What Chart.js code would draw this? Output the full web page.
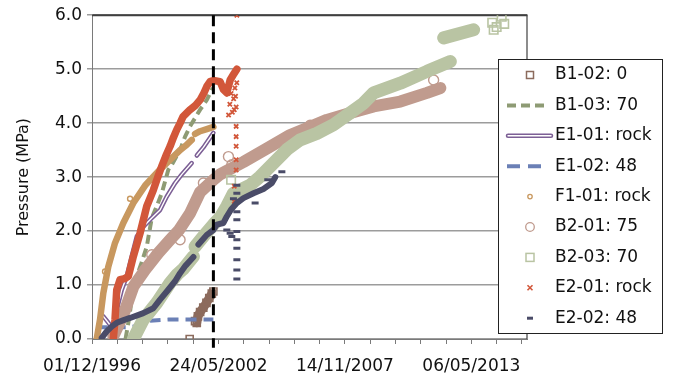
<!DOCTYPE html>
<html>
<head>
<meta charset="utf-8">
<script src="https://cdn.jsdelivr.net/npm/chart.js@4.4.1/dist/chart.umd.min.js"></script>
<style>
  html, body { margin: 0; padding: 0; background: #fff; }
  #wrap { width: 673px; height: 380px; }
</style>
</head>
<body>
<div id="wrap"><canvas id="c" width="673" height="380"></canvas></div>
<script>
// Dates are Excel serial day numbers; pressures in MPa.
const X_TICK_DATES  = [35400, 37400, 39400, 41400];
const X_TICK_LABELS = ['01/12/1996', '24/05/2002', '14/11/2007', '06/05/2013'];
const X_MIN = 35400, X_MAX = 42280, X_MINOR_STEP = 400;
const Y_TICKS = [0, 1, 2, 3, 4, 5, 6];

const SERIES_NAMES = ['B1-02: 0', 'B1-03: 70', 'E1-01: rock', 'E1-02: 48', 'F1-01: rock',
                      'B2-01: 75', 'B2-03: 70', 'E2-01: rock', 'E2-02: 48'];

// reference date marked by the dashed vertical line
const MARKER_DATE = 37320;
const MARKER_SPAN = [6.0, -0.16];

// B1-02: 0
const b1_02 = [[36945, 0.00], null, [37030, 0.33], [37057, 0.30], [37075, 0.42], [37110, 0.50],
  [37160, 0.58], [37210, 0.67], [37255, 0.76], [37295, 0.84], [37320, 0.88]];

// B1-03: 70
const b1_03 = [[35930, 0.00], [35990, 0.40], [36040, 0.85], [36090, 1.10], [36180, 1.40],
  [36266, 1.71], [36345, 2.24], [36424, 2.46], [36503, 2.70], [36556, 2.92], [36608, 3.14],
  [36662, 3.23], [36793, 3.50], [36872, 3.75], [36951, 3.94], [37110, 4.25], [37216, 4.43],
  [37295, 4.62], [37320, 4.65]];

// E1-01: rock
const e1_01 = [[35579, 0.42], [35640, 0.33], [35685, 0.26], [35737, 0.17], [35791, 0.54],
  [35870, 0.91], [35949, 1.16], [36002, 1.41], [36108, 1.90], [36212, 2.08], [36318, 2.21],
  [36476, 2.39], [36583, 2.64], [36714, 2.89], [36820, 3.05], [36978, 3.26], null,
  [37057, 3.40], [37162, 3.55], [37320, 3.82]];

// E1-02: 48
const e1_02 = [[35474, 0.22], [36002, 0.22], [36108, 0.24], [36318, 0.34], [36608, 0.36],
  [37320, 0.36]];

// F1-01: rock
const f1_01 = [[35474, 0.00], [35527, 0.36], [35579, 0.85], [35658, 1.34], [35764, 1.78],
  [35895, 2.15], [36054, 2.52], [36250, 2.86], [36476, 3.14], [36662, 3.35], [36793, 3.50],
  [36880, 3.58], [36978, 3.69], null, [37030, 3.80], [37110, 3.85], [37216, 3.89], [37320, 3.93]];
const f1_01_scatter = [[35606, 1.25], [36002, 2.60]];

// B2-01: 75
const b2_01 = [[35737, 0.05], [35906, 0.48], [36054, 0.97], [36239, 1.28], [36445, 1.59],
  [36635, 1.84], [36777, 2.02], [36951, 2.33], [37110, 2.72], [37320, 2.95], [37426, 3.05],
  [37795, 3.28], [38166, 3.53], [38534, 3.78], [38851, 3.93], [39115, 4.06], [39484, 4.19],
  [39854, 4.31], [40276, 4.40], [40698, 4.56], [40909, 4.65]];
const b2_01_scatter = [[36345, 1.56], [36793, 1.84], [37162, 2.89], [37558, 3.38], [37611, 3.23],
  [38851, 3.96], [40803, 4.80]];

// B2-03: 70
const b2_03 = [[36054, 0.00], [36212, 0.36], [36424, 0.67], [36635, 1.04], [36750, 1.20],
  [36845, 1.30], [37004, 1.53], null, [37030, 1.71], [37162, 1.90], [37320, 2.12], [37426, 2.25],
  [37532, 2.46], [37637, 2.70], [37901, 2.85], [38059, 3.01], [38270, 3.26], [38482, 3.51],
  [38693, 3.69], [38957, 3.81], [39220, 3.97], [39484, 4.19], [39695, 4.37], [39854, 4.56],
  [40276, 4.74], [40698, 4.96], [41067, 5.14], null, [40962, 5.58], [41436, 5.73]];
const b2_03_scatter = [[37600, 2.95], [41753, 5.73], [41730, 5.86], [41880, 5.97], [41920, 5.84],
  [41800, 5.78]];

// E2-01: rock
const e2_01 = [[35737, 0.00], [35764, 0.36], [35791, 0.91], [35843, 1.10], [35920, 1.12],
  [35975, 1.16], [36054, 1.53], [36160, 1.96], [36266, 2.46], [36370, 2.76], [36440, 3.00],
  [36503, 3.20], [36570, 3.40], [36635, 3.57], [36690, 3.74], [36741, 3.88], [36793, 4.00],
  [36840, 4.12], [36951, 4.25], [37030, 4.32], [37110, 4.43], [37170, 4.56], [37216, 4.68],
  [37268, 4.77], [37320, 4.79], [37426, 4.77], [37479, 4.62], [37532, 4.56], [37585, 4.80],
  [37637, 4.90], [37691, 5.00]];
const e2_01_scatter = [[37560, 4.15], [37580, 4.35], [37600, 4.55], [37620, 4.20], [37640, 4.45],
  [37660, 4.65], [37680, 4.30], [37690, 4.75], [37650, 4.25], [37670, 4.50], [37680, 3.94],
  [37680, 3.75], [37680, 3.57], [37680, 3.32], [37680, 3.13], [37650, 2.83], [37650, 2.55],
  [37691, 6.00]];

// E2-02: 48
const e2_02 = [[35554, 0.02], [35633, 0.14], [35710, 0.23], [35791, 0.30], [35900, 0.35],
  [36002, 0.39], [36212, 0.48], [36370, 0.57], [36476, 0.73], [36583, 0.88], [36714, 1.07],
  [36793, 1.22], [36880, 1.36], [36951, 1.45], [37004, 1.52], null, [37083, 1.75], [37216, 1.93],
  [37320, 2.02], [37373, 2.12], [37479, 2.15], [37532, 2.27], [37600, 2.40], [37691, 2.52],
  [37795, 2.61], [37954, 2.70], [38112, 2.78], [38245, 2.89], [38300, 3.00]];
const e2_02_scatter = [[37691, 2.85], [37691, 2.70], [37691, 2.36], [37691, 2.21], [37691, 1.99],
  [37691, 1.84], [37691, 1.68], [37691, 1.47], [37691, 1.28], [37691, 1.11], [37532, 2.02],
  [37585, 1.96], [37611, 1.90], [37637, 2.60], [37980, 2.52], [38180, 2.95], [38403, 3.10]];

const FONT = "'DejaVu Sans', Verdana, sans-serif";
const COLORS = {
  b1_02: '#8c6b5d', b1_03: '#8e9b74', e1_01: '#7c5f95', e1_02: '#6b80b6', f1_01: '#c8985f',
  b2_01: '#c09b8e', b2_03: '#b9c4a3', e2_01: '#d2573a', e2_02: '#4a4c68'
};

function toXY(pts) {
  let lastX = X_MIN;
  return pts.map(p => {
    if (!p) return { x: lastX, y: null };
    lastX = p[0];
    return { x: p[0], y: p[1] };
  });
}

function band(label, pts, color, width, order, extra) {
  return Object.assign({
    label, data: toXY(pts), showLine: true, borderColor: color, borderWidth: width,
    borderCapStyle: 'round', borderJoinStyle: 'round', pointRadius: 0, tension: 0,
    spanGaps: false, order
  }, extra || {});
}

function marks(label, pts, style, radius, color, lw, order, fill) {
  return {
    label, data: toXY(pts), showLine: false, pointStyle: style, pointRadius: radius,
    pointBorderColor: color, pointBackgroundColor: fill || 'rgba(255,255,255,0)',
    pointBorderWidth: lw, order
  };
}

const minorTicks = [];
for (let v = X_MIN; v <= X_MAX; v += X_MINOR_STEP) minorTicks.push(v);

const datasets = [
  // B1-02
  band(SERIES_NAMES[0], b1_02, COLORS.b1_02, 9, 16, {
    pointRadius: 5, pointStyle: 'rect', pointBorderColor: COLORS.b1_02,
    pointBackgroundColor: 'rgba(255,255,255,0)', pointBorderWidth: 1.6, borderCapStyle: 'butt'
  }),
  // B1-03
  band(SERIES_NAMES[1], b1_03, COLORS.b1_03, 4, 14, { borderDash: [9, 5], borderCapStyle: 'butt' }),
  // E1-01 (outlined line)
  band(SERIES_NAMES[2], e1_01, COLORS.e1_01, 4.5, 13),
  band(SERIES_NAMES[2], e1_01, '#ffffff', 1.4, 12),
  // E1-02
  band(SERIES_NAMES[3], e1_02, COLORS.e1_02, 4, 11, { borderDash: [11, 7], borderCapStyle: 'butt' }),
  // F1-01
  band(SERIES_NAMES[4], f1_01, COLORS.f1_01, 6.5, 10),
  marks(SERIES_NAMES[4], f1_01_scatter, 'circle', 2.5, COLORS.f1_01, 1.4, 9),
  // B2-01
  band(SERIES_NAMES[5], b2_01, COLORS.b2_01, 12, 8),
  marks(SERIES_NAMES[5], b2_01_scatter, 'circle', 5, COLORS.b2_01, 1.4, 7),
  // B2-03
  band(SERIES_NAMES[6], b2_03, COLORS.b2_03, 13, 6),
  marks(SERIES_NAMES[6], b2_03_scatter, 'rect', 6, COLORS.b2_03, 1.6, 5),
  // E2-01
  band(SERIES_NAMES[7], e2_01, COLORS.e2_01, 7.5, 4),
  marks(SERIES_NAMES[7], e2_01_scatter, 'crossRot', 3, COLORS.e2_01, 1.8, 3),
  // E2-02
  band(SERIES_NAMES[8], e2_02, COLORS.e2_02, 6, 2),
  marks(SERIES_NAMES[8], e2_02_scatter, 'line', 3.5, COLORS.e2_02, 3, 1),
  // dashed vertical marker line
  {
    label: 'marker', data: MARKER_SPAN.map(v => ({ x: MARKER_DATE, y: v })), showLine: true,
    borderColor: '#000', borderWidth: 3, borderDash: [11, 6], pointRadius: 0, order: 0, clip: false
  }
];

// plot-area frame: dark top and right edges
const framePlugin = {
  id: 'plotFrame',
  beforeDatasetsDraw(chart) {
    const { ctx, chartArea: a } = chart;
    ctx.save();
    ctx.strokeStyle = '#404040';
    ctx.lineWidth = 2;
    ctx.beginPath();
    ctx.moveTo(a.left, a.top);
    ctx.lineTo(a.right + 0.5, a.top);
    ctx.stroke();
    ctx.lineWidth = 1.2;
    ctx.beginPath();
    ctx.moveTo(a.right, a.top);
    ctx.lineTo(a.right, a.bottom);
    ctx.stroke();
    ctx.restore();
  }
};

// boxed legend overlapping the right side of the plot
const LEGEND_SYMBOLS = ['square', 'dash', 'double', 'longdash', 'dot', 'circle', 'square2', 'cross', 'bar'];
const LEGEND_COLORS = [COLORS.b1_02, COLORS.b1_03, COLORS.e1_01, COLORS.e1_02, COLORS.f1_01,
  COLORS.b2_01, COLORS.b2_03, COLORS.e2_01, COLORS.e2_02];
const legendPlugin = {
  id: 'boxLegend',
  afterDraw(chart) {
    const ctx = chart.ctx;
    const box = { x: 498, y: 59.5, w: 165, h: 274 };
    ctx.save();
    ctx.fillStyle = '#fff';
    ctx.fillRect(box.x, box.y, box.w, box.h);
    ctx.strokeStyle = '#222';
    ctx.lineWidth = 1;
    ctx.strokeRect(box.x + 0.5, box.y, box.w - 1, box.h);
    const symX = 530, lineL = 507, textX = 555;
    SERIES_NAMES.forEach((name, i) => {
      const cy = 75 + i * 30.4;
      const col = LEGEND_COLORS[i];
      ctx.save();
      ctx.strokeStyle = col;
      ctx.fillStyle = col;
      switch (LEGEND_SYMBOLS[i]) {
        case 'square':
          ctx.lineWidth = 1.5; ctx.strokeRect(symX - 3.5, cy - 3.5, 7, 7); break;
        case 'square2':
          ctx.lineWidth = 1.5; ctx.strokeRect(symX - 4, cy - 4, 8, 8); break;
        case 'dash':
          ctx.lineWidth = 4; ctx.setLineDash([9, 5]);
          ctx.beginPath(); ctx.moveTo(lineL, cy); ctx.lineTo(546, cy); ctx.stroke(); break;
        case 'longdash':
          ctx.lineWidth = 4; ctx.setLineDash([13, 8]);
          ctx.beginPath(); ctx.moveTo(lineL, cy); ctx.lineTo(547, cy); ctx.stroke(); break;
        case 'double':
          ctx.lineWidth = 4.5; ctx.lineCap = 'round';
          ctx.beginPath(); ctx.moveTo(lineL + 1, cy); ctx.lineTo(551, cy); ctx.stroke();
          ctx.strokeStyle = '#fff'; ctx.lineWidth = 1.4;
          ctx.beginPath(); ctx.moveTo(lineL + 1, cy); ctx.lineTo(551, cy); ctx.stroke(); break;
        case 'dot':
          ctx.lineWidth = 1.3; ctx.beginPath(); ctx.arc(symX, cy, 2.2, 0, Math.PI * 2); ctx.stroke(); break;
        case 'circle':
          ctx.lineWidth = 1.3; ctx.beginPath(); ctx.arc(symX, cy, 4.3, 0, Math.PI * 2); ctx.stroke(); break;
        case 'cross':
          ctx.lineWidth = 1.6; ctx.beginPath();
          ctx.moveTo(symX - 2.5, cy - 2.5); ctx.lineTo(symX + 2.5, cy + 2.5);
          ctx.moveTo(symX + 2.5, cy - 2.5); ctx.lineTo(symX - 2.5, cy + 2.5); ctx.stroke(); break;
        case 'bar':
          ctx.fillRect(symX - 3, cy - 1.5, 6, 3); break;
      }
      ctx.restore();
      ctx.fillStyle = '#111';
      ctx.font = '17px ' + FONT;
      ctx.textBaseline = 'middle';
      ctx.textAlign = 'left';
      ctx.fillText(name, textX, cy);
    });
    ctx.restore();
  }
};

new Chart(document.getElementById('c'), {
  type: 'scatter',
  data: { datasets },
  options: {
    responsive: false,
    animation: false,
    events: [],
    layout: { padding: { left: 0, right: 146, top: 15, bottom: 0 } },
    plugins: { legend: { display: false }, tooltip: { enabled: false } },
    scales: {
      x: {
        type: 'linear', min: X_MIN, max: X_MAX,
        afterBuildTicks: s => { s.ticks = minorTicks.map(v => ({ value: v })); },
        afterFit: s => { s.height = 41; },
        ticks: {
          autoSkip: false, maxRotation: 0, minRotation: 0, padding: 12, color: '#111',
          font: { family: FONT, size: 17 },
          callback: v => { const i = X_TICK_DATES.indexOf(v); return i >= 0 ? X_TICK_LABELS[i] : ''; }
        },
        grid: { display: true, drawOnChartArea: false, drawTicks: true, tickLength: 5, color: '#7a7a7a', lineWidth: 1 },
        border: { display: true, color: '#7a7a7a', width: 1 }
      },
      y: {
        min: 0, max: 6,
        afterBuildTicks: s => { s.ticks = Y_TICKS.map(v => ({ value: v })); },
        afterFit: s => { s.width = 92; },
        ticks: { padding: 5, color: '#111', font: { family: FONT, size: 17 }, callback: v => Number(v).toFixed(1) },
        grid: { color: '#9c9c9c', lineWidth: 1.5, tickLength: 5 },
        border: { color: '#7a7a7a', width: 1 },
        title: {
          display: true, text: 'Pressure (MPa)', color: '#111',
          font: { family: FONT, size: 16 }, padding: { top: 14, bottom: 0 }
        }
      }
    }
  },
  plugins: [framePlugin, legendPlugin]
});
</script>
</body>
</html>
